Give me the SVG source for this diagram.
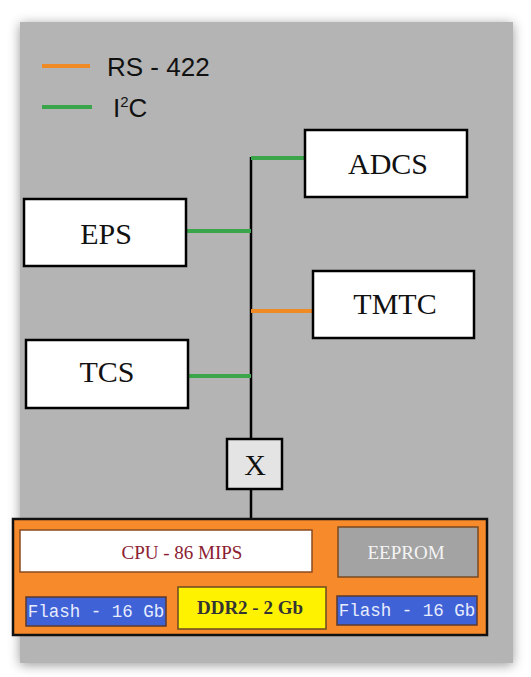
<svg xmlns="http://www.w3.org/2000/svg" width="531" height="677" viewBox="0 0 531 677">
<defs>
<filter id="sh" x="-10%" y="-10%" width="120%" height="120%">
<feGaussianBlur in="SourceAlpha" stdDeviation="6"/>
<feOffset dx="0" dy="2" result="b"/>
<feFlood flood-color="#000" flood-opacity="0.4"/>
<feComposite in2="b" operator="in"/>
<feMerge><feMergeNode/><feMergeNode in="SourceGraphic"/></feMerge>
</filter>
<style>
.box{fill:#fff;stroke:#000;stroke-width:2.5}
.lbl{font-family:"Liberation Serif","Times New Roman",serif;font-size:30px;fill:#111;text-anchor:middle}
.leg{font-family:"Liberation Sans",Arial,sans-serif;font-size:26px;fill:#111}
.i2c{stroke:#3aa54a;stroke-width:4}
.rs{stroke:#f08a24;stroke-width:4}
.bus{stroke:#000;stroke-width:2.5;fill:none}
.mono{font-family:"Liberation Mono","Courier New",monospace;font-size:17.5px;fill:#e8ecff;text-anchor:middle}
.ser{font-family:"Liberation Serif","Times New Roman",serif;font-size:19px;text-anchor:middle}
</style>
</defs>
<rect width="531" height="677" fill="#fff"/>
<rect x="20" y="22" width="493" height="641" fill="#b4b4b4" filter="url(#sh)"/>

<g id="legend">
<line x1="42" y1="66" x2="90" y2="66" class="rs"/>
<text x="107" y="76" class="leg">RS - 422</text>
<line x1="42" y1="107" x2="92" y2="107" class="i2c"/>
<text x="113" y="117" class="leg">I<tspan dy="-10" font-size="15">2</tspan><tspan dy="10">C</tspan></text>
</g>

<g id="connectors">
<line x1="251" y1="157" x2="251" y2="439" class="bus"/>
<line x1="251" y1="489" x2="251" y2="519" class="bus"/>
<line x1="251" y1="158" x2="305" y2="158" class="i2c"/>
<line x1="186" y1="231" x2="251" y2="231" class="i2c"/>
<line x1="251" y1="311" x2="313" y2="311" class="rs"/>
<line x1="188" y1="376" x2="251" y2="376" class="i2c"/>
</g>

<g id="ADCS">
<rect x="305" y="130" width="162" height="67" class="box"/>
<text x="388" y="174" class="lbl">ADCS</text>
</g>
<g id="EPS">
<rect x="24" y="199" width="162" height="67" class="box"/>
<text x="106" y="244" class="lbl">EPS</text>
</g>
<g id="TMTC">
<rect x="313" y="271" width="161" height="67" class="box"/>
<text x="395" y="314" class="lbl">TMTC</text>
</g>
<g id="TCS">
<rect x="26" y="340" width="162" height="68" class="box"/>
<text x="107" y="382" class="lbl">TCS</text>
</g>
<g id="X">
<rect x="227" y="439" width="55" height="50" fill="#e4e4e4" stroke="#000" stroke-width="2.5"/>
<text x="255" y="475" class="lbl" font-size="26">X</text>
</g>

<g id="OBC">
<rect x="13" y="519" width="474" height="116" fill="#f78b2c" stroke="#111" stroke-width="2.5"/>
<g id="CPU">
<rect x="20" y="530" width="292" height="42" fill="#fff" stroke="#8a4a20" stroke-width="1.5"/>
<text x="182" y="559" class="ser" fill="#8b2030">CPU -  86 MIPS</text>
</g>
<g id="EEPROM">
<rect x="338" y="527" width="140" height="50" fill="#a3a3a3" stroke="#7a4a20" stroke-width="1.5"/>
<text x="406" y="559" class="ser" fill="#f4f4f4">EEPROM</text>
</g>
<g id="Flash1">
<rect x="26" y="597" width="140" height="29" fill="#3f63d6" stroke="#5a3a30" stroke-width="1.5"/>
<text x="96" y="617" class="mono">Flash - 16 Gb</text>
</g>
<g id="DDR2">
<rect x="178" y="587" width="148" height="42" fill="#fff200" stroke="#6a4a20" stroke-width="1.5"/>
<text x="250" y="614" class="ser" font-weight="bold" fill="#333">DDR2 - 2 Gb</text>
</g>
<g id="Flash2">
<rect x="337" y="596" width="140" height="29" fill="#3f63d6" stroke="#5a3a30" stroke-width="1.5"/>
<text x="407" y="616" class="mono">Flash - 16 Gb</text>
</g>
</g>
</svg>
